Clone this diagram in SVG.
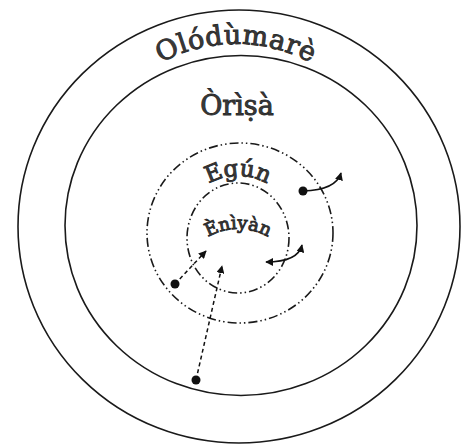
<svg xmlns="http://www.w3.org/2000/svg" width="465" height="447" viewBox="0 0 465 447">
<style>
.ring{fill:none;stroke:#1a1a1a;stroke-width:1.6}
.dd{fill:none;stroke:#1a1a1a;stroke-width:1.6;stroke-dasharray:9 3 1.5 3 1.5 3}
.lbl{font-family:"DejaVu Serif",serif;fill:#3a3a3a;stroke:#2a2a2a;stroke-width:0.9}
.solid{fill:none;stroke:#111;stroke-width:1.6}
.dash{fill:none;stroke:#111;stroke-width:1.5;stroke-dasharray:4 3}
.dot{fill:#111}
</style>
<defs>
<marker id="ah" viewBox="0 0 10 10" refX="9" refY="5" markerWidth="8" markerHeight="8" orient="auto-start-reverse" markerUnits="userSpaceOnUse">
<path d="M0,0 L10,5 L0,10 z" fill="#111"/>
</marker>
<path id="p-olo" d="M 76,204 A 160 160 0 0 1 396,204"/>
<path id="p-egun" d="M 180,234 A 58 58 0 0 1 296,234"/>
<path id="p-eni" d="M 177,290 A 61 61 0 0 1 299,290"/>
</defs>
<rect width="465" height="447" fill="#fff"/>
<g id="olodumare">
<ellipse class="ring" cx="239" cy="226.5" rx="221" ry="216.5"/>
<text class="lbl" font-size="27" letter-spacing="0.5"><textPath href="#p-olo" startOffset="50%" text-anchor="middle">Olódùmarè</textPath></text>
</g>
<g id="orisa">
<ellipse class="ring" cx="241" cy="225.5" rx="176" ry="170"/>
<text class="lbl" x="237" y="115" font-size="27" text-anchor="middle">Òrìṣà</text>
</g>
<g id="egun">
<ellipse class="dd" cx="240" cy="233" rx="93" ry="90"/>
<text class="lbl" font-size="23"><textPath href="#p-egun" startOffset="50%" text-anchor="middle">Egún</textPath></text>
</g>
<g id="eniyan">
<ellipse class="dd" cx="238" cy="238" rx="51" ry="55"/>
<text class="lbl" font-size="18"><textPath href="#p-eni" startOffset="50%" text-anchor="middle">Ènìyàn</textPath></text>
</g>
<g id="connectors">
<circle class="dot" cx="303" cy="191" r="4.5"/>
<path class="solid" d="M303,191 Q336,190 341,173" marker-end="url(#ah)"/>
<path class="solid" d="M266,262 Q298,262 302,245" marker-start="url(#ah)" marker-end="url(#ah)"/>
<circle class="dot" cx="175" cy="284" r="4.5"/>
<path class="dash" d="M175,284 L206,251" marker-end="url(#ah)"/>
<circle class="dot" cx="196" cy="380" r="4.5"/>
<path class="dash" d="M196,380 L222,266" marker-end="url(#ah)"/>
</g>
</svg>
